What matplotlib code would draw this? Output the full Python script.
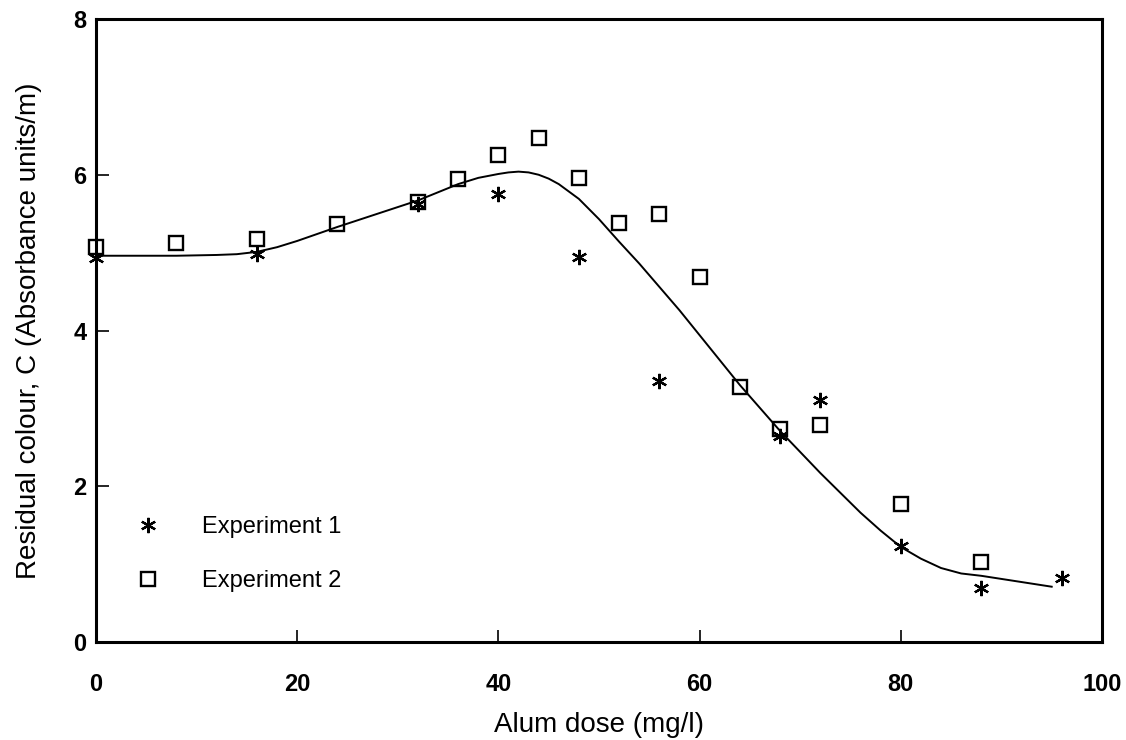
import matplotlib
matplotlib.use("Agg")
import matplotlib.pyplot as plt

plt.rcParams['font.family'] = ['Liberation Sans', 'DejaVu Sans']

# Experiment 1 (asterisks)
exp1_x = [0, 16, 32, 40, 48, 56, 68, 72, 80, 88, 96]
exp1_y = [4.93, 4.98, 5.63, 5.75, 4.94, 3.35, 2.64, 3.11, 1.23, 0.69, 0.82]

# Experiment 2 (squares)
exp2_x = [0, 8, 16, 24, 32, 36, 40, 44, 48, 52, 56, 60, 64, 68, 72, 80, 88]
exp2_y = [5.07, 5.13, 5.17, 5.37, 5.65, 5.94, 6.25, 6.47, 5.96, 5.38, 5.49,
          4.69, 3.27, 2.73, 2.79, 1.77, 1.03]

# Fitted curve
fit_x = [0, 4, 8, 12, 14, 16, 18, 20, 24, 28, 32, 36, 38, 40, 41, 42, 43, 44,
         45, 46, 48, 50, 52, 54, 56, 58, 60, 64, 68, 72, 76, 78, 80, 82, 84,
         86, 88, 92, 95]
fit_y = [4.96, 4.96, 4.96, 4.97, 4.98, 5.01, 5.07, 5.15, 5.33, 5.50, 5.67,
         5.88, 5.96, 6.01, 6.03, 6.04, 6.03, 6.00, 5.95, 5.88, 5.69, 5.43,
         5.14, 4.86, 4.56, 4.26, 3.94, 3.30, 2.71, 2.17, 1.66, 1.43, 1.22,
         1.07, 0.95, 0.88, 0.85, 0.77, 0.71]

x_ticks = [0, 20, 40, 60, 80, 100]
y_ticks = [0, 2, 4, 6, 8]

fig = plt.figure(figsize=(11.26, 7.40), dpi=100)
ax = fig.add_axes([96/1126, 98/740, 1006/1126, 623/740])

ax.plot(fit_x, fit_y, color='black', lw=1.4, zorder=2)
asterisk = (6, 2, 0)
ax.plot(exp1_x, exp1_y, linestyle='none', marker=asterisk, ms=11, mew=1.6,
        color='black', zorder=3, clip_on=False, label='Experiment 1')
ax.plot(exp2_x, exp2_y, linestyle='none', marker='s', ms=9.5, mew=1.7,
        mfc='none', mec='black', zorder=3, clip_on=False, label='Experiment 2')

ax.set_xlim(0, 100)
ax.set_ylim(0, 8)
ax.set_xticks(x_ticks)
ax.set_yticks(y_ticks)
ax.set_xticklabels([str(v) for v in x_ticks], fontsize=17, fontweight='bold')
ax.set_yticklabels([str(v) for v in y_ticks], fontsize=17, fontweight='bold')
ax.tick_params(axis='x', direction='in', length=9, width=1.2, pad=22)
ax.tick_params(axis='y', direction='in', length=9, width=1.2, pad=7)
ax.tick_params(top=False, right=False)
for s in ax.spines.values():
    s.set_linewidth(2.2)

ax.set_xlabel('Alum dose (mg/l)', fontsize=20, labelpad=12)
ax.set_ylabel('Residual colour, C (Absorbance units/m)', fontsize=20, labelpad=22)

ax.legend(loc='upper left', bbox_to_anchor=(0.040, 0.202), frameon=False,
          fontsize=17, handlelength=1.0, handletextpad=1.8,
          labelspacing=1.35, borderpad=0, borderaxespad=0)

fig.savefig('out.png', dpi=100)
